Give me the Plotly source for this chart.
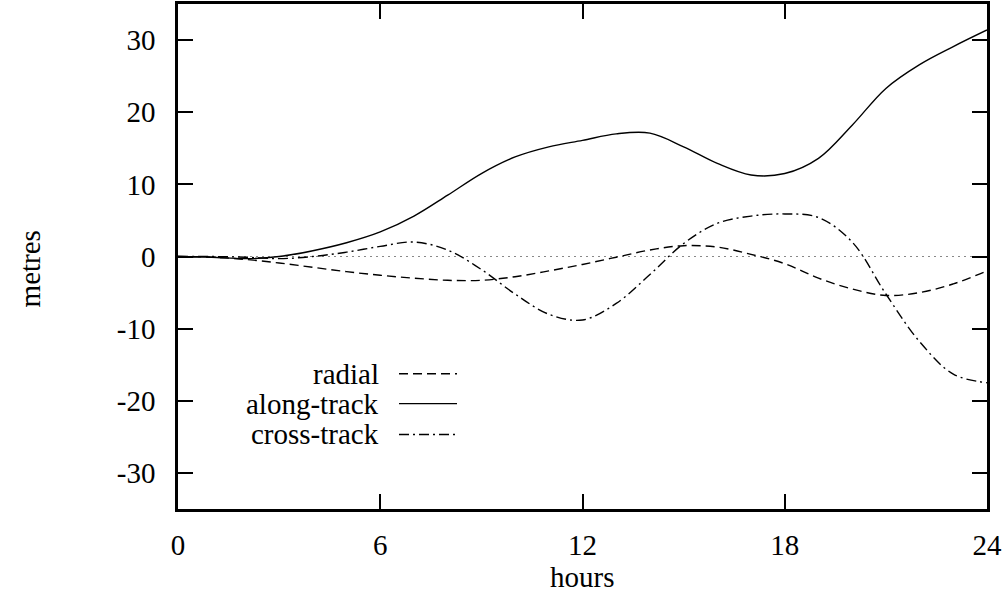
import plotly.graph_objects as go

hours = list(range(0, 25))
radial = [0, -0.1, -0.4, -0.9, -1.5, -2.1, -2.6, -3.0, -3.3, -3.3, -2.8, -2.0, -1.1,
          -0.1, 0.9, 1.5, 1.3, 0.3, -1.0, -3.0, -4.5, -5.4, -5.0, -3.8, -2.0]
along_track = [0, -0.1, -0.3, 0.0, 0.8, 1.9, 3.4, 5.6, 8.5, 11.5, 13.8, 15.2, 16.1,
               17.0, 17.1, 15.2, 12.9, 11.3, 11.5, 13.6, 18.2, 23.3, 26.6, 29.1, 31.4]
cross_track = [0, 0.0, -0.1, -0.3, 0.0, 0.6, 1.4, 2.0, 0.9, -1.8, -5.2, -8.0, -8.8,
               -6.5, -2.5, 1.8, 4.6, 5.6, 5.9, 5.4, 2.0, -5.2, -11.8, -16.3, -17.5]
zero_x = [0, 24]
zero_y = [0, 0]

x_ticks = [0, 6, 12, 18, 24]
y_ticks = [-30, -20, -10, 0, 10, 20, 30]
legend_labels = ["radial", "along-track", "cross-track"]

FONT = "Liberation Serif"
FS = 29

fig = go.Figure()
fig.add_trace(go.Scatter(x=zero_x, y=zero_y, mode="lines",
                         line=dict(color="#888888", width=1.2, dash="2px,4px"),
                         showlegend=False, hoverinfo="skip"))
styles = {
    "radial": dict(color="black", width=1.4, dash="9px,5px"),
    "along-track": dict(color="black", width=1.4),
    "cross-track": dict(color="black", width=1.4, dash="10px,4px,2px,4px"),
}
for name, ys in zip(legend_labels, [radial, along_track, cross_track]):
    fig.add_trace(go.Scatter(x=hours, y=ys, mode="lines", name=name,
                             line=dict(shape="spline", smoothing=1.0, **styles[name]),
                             showlegend=False))

L, R, T, B = 178, 987, 1, 509
W, H = 1008, 594
pw, ph = R - L, B - T

def px(x):
    return (x - L) / pw

def py(y):
    return (B - y) / ph

# legend
rows_y = [373, 403, 434]
for name, yy in zip(legend_labels, rows_y):
    fig.add_annotation(x=px(381), y=py(yy), xref="paper", yref="paper", text=name,
                       showarrow=False, xanchor="right", yanchor="middle",
                       font=dict(family=FONT, size=FS, color="black"))
    ln = styles[name]
    fig.add_shape(type="line", xref="paper", yref="paper",
                  x0=px(399), x1=px(457), y0=py(yy), y1=py(yy),
                  line=dict(color="black", width=1.4, dash=ln.get("dash", "solid")))

fig.add_annotation(x=px(582), y=py(577), xref="paper", yref="paper", text="hours",
                   showarrow=False, xanchor="center", yanchor="middle",
                   font=dict(family=FONT, size=FS, color="black"))
fig.add_annotation(x=px(30), y=py(268), xref="paper", yref="paper", text="metres",
                   showarrow=False, xanchor="center", yanchor="middle", textangle=-90,
                   font=dict(family=FONT, size=FS, color="black"))

axis_common = dict(showline=True, linecolor="black", linewidth=2.5, mirror="allticks",
                   ticks="inside", ticklen=15, tickwidth=2, tickcolor="black",
                   showgrid=False, zeroline=False,
                   tickfont=dict(family=FONT, size=FS, color="black"))
fig.update_xaxes(range=[0, 24], tickvals=x_ticks, ticktext=[str(v) for v in x_ticks],
                 ticklabelstandoff=8, **axis_common)
fig.update_yaxes(range=[-35, 35], tickvals=y_ticks, ticktext=[str(v) for v in y_ticks],
                 ticklabelstandoff=14, **axis_common)

fig.update_layout(width=W, height=H, margin=dict(l=L, r=W - R, t=T, b=H - B),
                  plot_bgcolor="white", paper_bgcolor="white", showlegend=False)

fig.write_html("out.html")
